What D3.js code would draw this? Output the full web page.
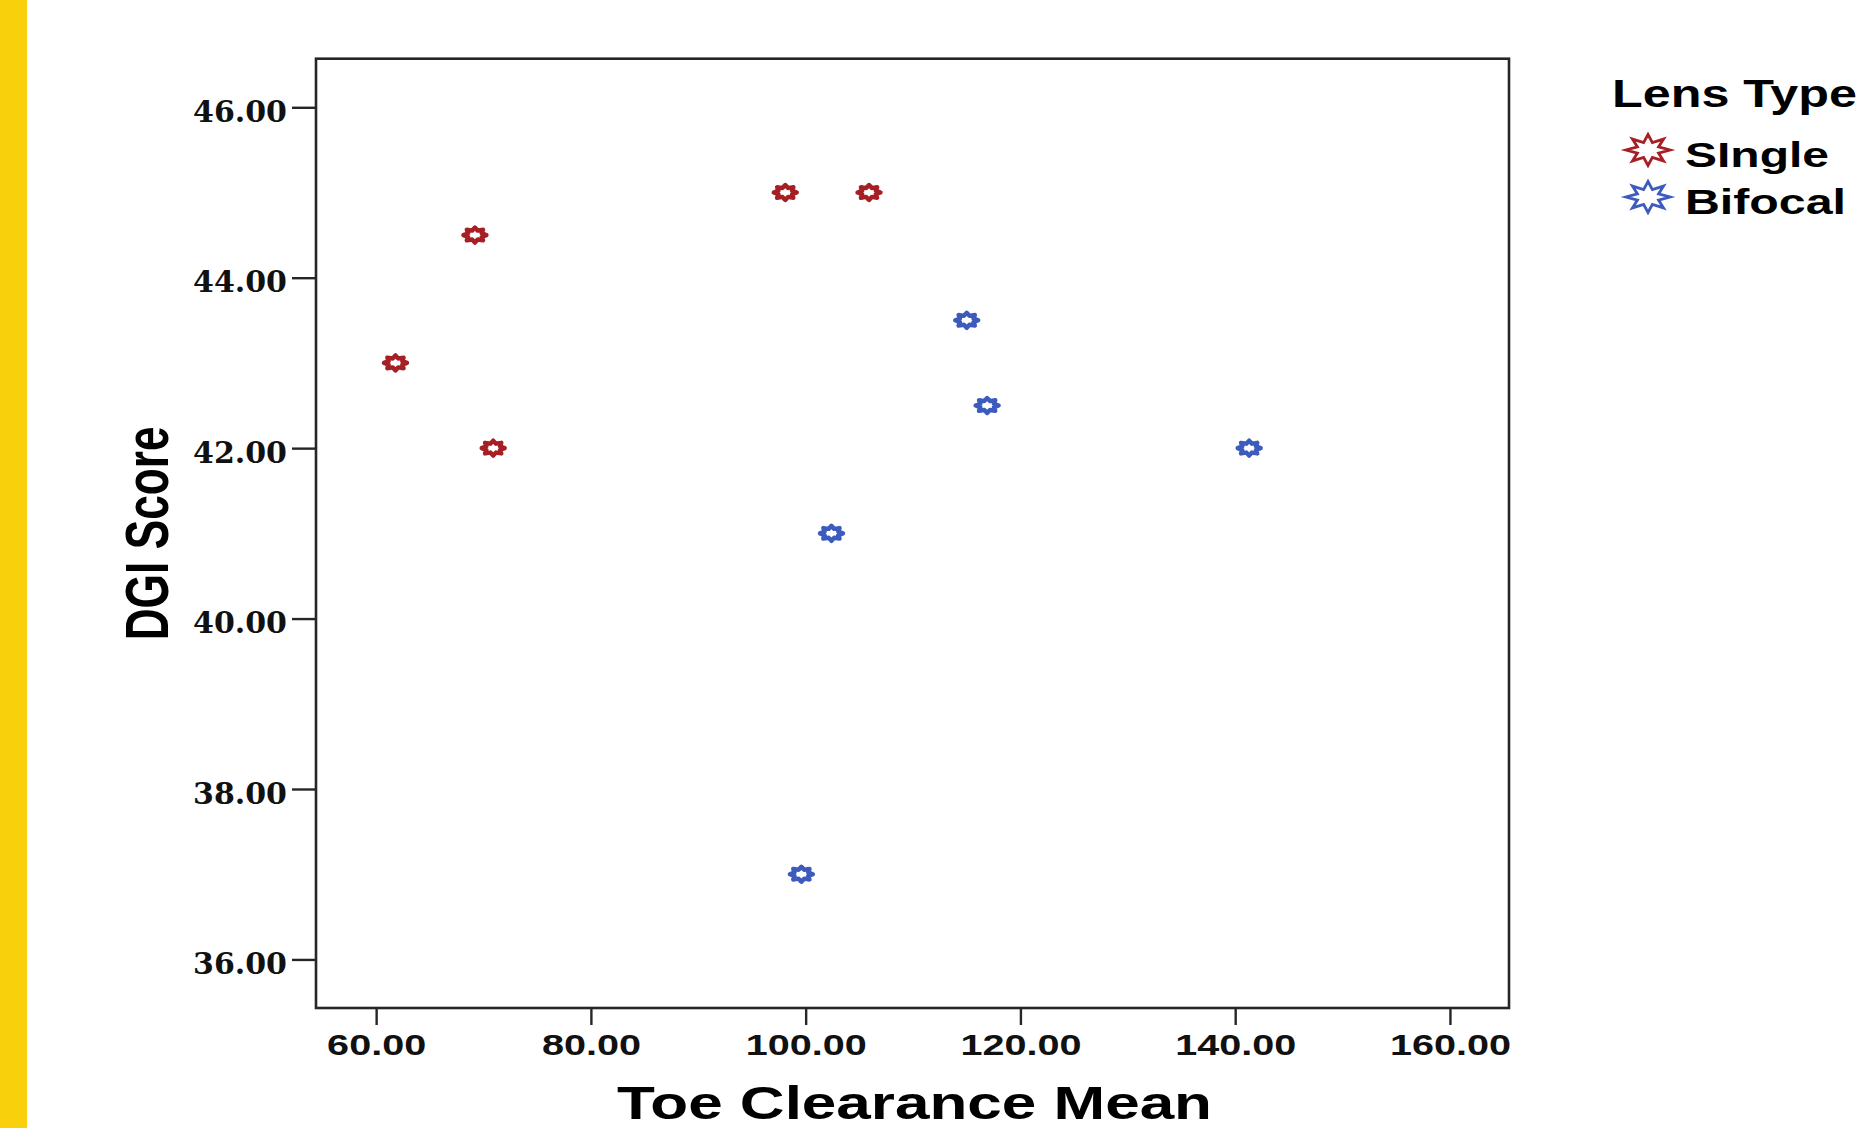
<!DOCTYPE html>
<html lang="en">
<head>
    <meta charset="UTF-8">
    <title>Toe Clearance vs DGI Score</title>
    <script src="https://d3js.org/d3.v7.min.js"></script>
    <style>
        body {
            margin: 0;
            padding: 0;
            overflow: hidden;
            background: #fff;
        }
        svg {
            display: block;
        }
        .frame {
            fill: none;
            stroke: #262626;
            stroke-width: 2.6px;
        }
        .tick line {
            stroke: #262626;
            stroke-width: 2.4px;
        }
    </style>
</head>
<body>
    <svg id="chart"></svg>

    <script>
        // values
        const singleX = [61.8, 69.2, 70.9, 98.1, 105.9];
        const singleY = [43.0, 44.5, 42.0, 45.0, 45.0];
        const bifocalX = [115.0, 116.9, 141.3, 102.4, 99.6];
        const bifocalY = [43.5, 42.5, 42.0, 41.0, 37.0];

        const xTicks = [60, 80, 100, 120, 140, 160];
        const yTicks = [36, 38, 40, 42, 44, 46];
        const groups = ["SIngle", "Bifocal"];
        const groupColors = ["#a61f24", "#3d5bbd"];

        const width = 1860;
        const height = 1128;

        const svg = d3.select("#chart")
            .attr("width", width)
            .attr("height", height);

        // yellow strip on the left edge
        svg.append("rect")
            .attr("x", 0).attr("y", 0)
            .attr("width", 27).attr("height", height)
            .attr("fill", "#f9d00c");

        const x = d3.scaleLinear().domain([54.4, 165.5]).range([316, 1509]);
        const y = d3.scaleLinear().domain([35.43, 46.57]).range([1008, 58.7]);

        // 8 pointed star, unit radius
        function starPath(inner) {
            const pts = [];
            for (let i = 0; i < 16; i++) {
                const a = i * Math.PI / 8 - Math.PI / 2;
                const r = (i % 2 === 0) ? 1 : inner;
                pts.push([r * Math.cos(a), r * Math.sin(a)]);
            }
            return "M" + pts.map(p => p[0].toFixed(3) + "," + p[1].toFixed(3)).join("L") + "Z";
        }

        // axes
        const yAxis = d3.axisLeft(y)
            .tickValues(yTicks)
            .tickFormat(d3.format(".2f"))
            .tickSize(24)
            .tickSizeOuter(0)
            .tickPadding(5);

        const gy = svg.append("g")
            .attr("transform", `translate(${x.range()[0]},0)`)
            .call(yAxis);
        gy.select(".domain").remove();
        gy.selectAll("text")
            .attr("dy", "0.47em")
            .attr("fill", "#111")
            .style("font-family", "'DejaVu Serif', serif")
            .style("font-weight", "bold")
            .style("font-size", "30px");

        const xAxis = d3.axisBottom(x)
            .tickValues(xTicks)
            .tickFormat(d3.format(".2f"))
            .tickSize(17)
            .tickSizeOuter(0);

        const gx = svg.append("g")
            .attr("transform", `translate(0,${y.range()[0]})`)
            .call(xAxis);
        gx.select(".domain").remove();
        gx.selectAll("text")
            .attr("y", 47)
            .attr("dy", 0)
            .attr("fill", "#111")
            .attr("transform", "scale(1.32,1)")
            .style("font-family", "'Liberation Sans', Arial, sans-serif")
            .style("font-weight", "bold")
            .style("font-size", "30px");

        // plot frame
        svg.append("rect")
            .attr("class", "frame")
            .attr("x", x.range()[0])
            .attr("y", y.range()[1])
            .attr("width", x.range()[1] - x.range()[0])
            .attr("height", y.range()[0] - y.range()[1]);

        // axis titles
        svg.append("text")
            .attr("transform", `translate(168,${(y.range()[0] + y.range()[1]) / 2}) rotate(-90)`)
            .attr("text-anchor", "middle")
            .attr("textLength", 214)
            .attr("lengthAdjust", "spacingAndGlyphs")
            .style("font-family", "'Liberation Sans', Arial, sans-serif")
            .style("font-weight", "bold")
            .style("font-size", "62px")
            .text("DGI Score");

        svg.append("text")
            .attr("x", 617)
            .attr("y", 1119)
            .attr("textLength", 595)
            .attr("lengthAdjust", "spacingAndGlyphs")
            .style("font-family", "'Liberation Sans', Arial, sans-serif")
            .style("font-weight", "bold")
            .style("font-size", "46px")
            .text("Toe Clearance Mean");

        // points
        const points = [];
        singleX.forEach((v, i) => points.push({ x: v, y: singleY[i], g: 0 }));
        bifocalX.forEach((v, i) => points.push({ x: v, y: bifocalY[i], g: 1 }));

        const markPath = starPath(0.64);
        svg.append("g")
            .selectAll("path")
            .data(points)
            .enter().append("path")
            .attr("d", markPath)
            .attr("transform", d => `translate(${x(d.x)},${y(d.y)}) scale(11.5,7.5)`)
            .attr("vector-effect", "non-scaling-stroke")
            .attr("fill", "#fff")
            .attr("stroke", d => groupColors[d.g])
            .attr("stroke-width", 4.4)
            .attr("stroke-linejoin", "round");

        // legend
        const legend = svg.append("g");
        legend.append("text")
            .attr("x", 1612)
            .attr("y", 107)
            .attr("textLength", 245)
            .attr("lengthAdjust", "spacingAndGlyphs")
            .style("font-family", "'Liberation Sans', Arial, sans-serif")
            .style("font-weight", "bold")
            .style("font-size", "38px")
            .text("Lens Type");

        const legendPath = starPath(0.52);
        const item = legend.selectAll("g.item")
            .data(groups)
            .enter().append("g")
            .attr("class", "item")
            .attr("transform", (d, i) => `translate(0,${150 + i * 47})`);

        item.append("path")
            .attr("d", legendPath)
            .attr("transform", "translate(1648,0) scale(22,15.5)")
            .attr("vector-effect", "non-scaling-stroke")
            .attr("fill", "#fff")
            .attr("stroke", (d, i) => groupColors[i])
            .attr("stroke-width", 2.8);

        item.append("text")
            .attr("x", 1685)
            .attr("y", 17)
            .attr("textLength", (d, i) => i === 0 ? 144 : 161)
            .attr("lengthAdjust", "spacingAndGlyphs")
            .style("font-family", "'Liberation Sans', Arial, sans-serif")
            .style("font-weight", "bold")
            .style("font-size", "35px")
            .text(d => d);
    </script>
</body>
</html>
